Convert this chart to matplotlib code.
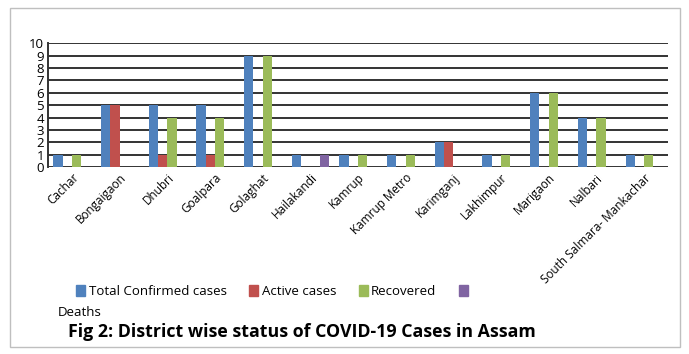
import matplotlib
matplotlib.use("Agg")
import matplotlib.pyplot as plt
import numpy as np
from matplotlib.patches import Rectangle, Patch

# district wise counts
districts = ["Cachar", "Bongaigaon", "Dhubri", "Goalpara", "Golaghat", "Hailakandi",
             "Kamrup", "Kamrup Metro", "Karimganj", "Lakhimpur", "Marigaon", "Nalbari",
             "South Salmara- Mankachar"]
total_confirmed = [1, 5, 5, 5, 9, 1, 1, 1, 2, 1, 6, 4, 1]
active_cases = [0, 5, 1, 1, 0, 0, 0, 0, 2, 0, 0, 0, 0]
recovered = [1, 0, 4, 4, 9, 0, 1, 1, 0, 1, 6, 4, 1]
deaths = [0, 0, 0, 0, 0, 1, 0, 0, 0, 0, 0, 0, 0]

series = [("Total Confirmed cases", total_confirmed, "#4F81BD"),
          ("Active cases", active_cases, "#C0504D"),
          ("Recovered", recovered, "#9BBB59"),
          ("Deaths", deaths, "#8064A2")]

plt.rcParams["font.family"] = ["Open Sans", "DejaVu Sans"]

fig = plt.figure(figsize=(6.89, 3.54), dpi=100)
ax = fig.add_axes([0.0697, 0.528, 0.8998, 0.350])

# outer frame
fig.patches.append(Rectangle((10 / 689, 1 - 347 / 354), 670 / 689, 339 / 354,
                             transform=fig.transFigure, fill=False,
                             edgecolor="#bfbfbf", linewidth=1.0))

x = np.arange(len(districts))
w = 0.195
for i, (name, vals, col) in enumerate(series):
    ax.bar(x + (i - 1.5) * w, vals, w, color=col, label=name, zorder=3)

ax.set_xlim(-0.5, len(districts) - 0.5)
ax.set_ylim(0, 10)
ax.set_yticks(range(0, 11))
ax.yaxis.grid(True, color="#333333", linewidth=1.4, zorder=0)
ax.set_axisbelow(True)
for s in ["top", "right", "bottom"]:
    ax.spines[s].set_visible(False)
ax.spines["left"].set_color("#333333")
ax.spines["left"].set_linewidth(1.4)
ax.tick_params(axis="y", length=0, labelsize=9.5, pad=3)
ax.tick_params(axis="x", length=0, labelsize=8.5, pad=3)
ax.set_xticks(x)
ax.set_xticklabels(districts, rotation=45, ha="right", rotation_mode="anchor")

handles = [Patch(color=c) for _, _, c in series]
leg = fig.legend(handles, [s[0] for s in series[:3]] + [""], loc="upper left",
                 bbox_to_anchor=(0.103, 0.21), ncol=4, frameon=False,
                 fontsize=9.5, handlelength=0.7, handleheight=0.9,
                 handletextpad=0.25, columnspacing=1.7, borderaxespad=0)
fig.text(58 / 689, 1 - 312 / 354, "Deaths", fontsize=9.5, va="center", ha="left")

fig.text(68 / 689, 1 - 332 / 354, "Fig 2: District wise status of COVID-19 Cases in Assam",
         fontsize=12.8, fontweight="bold", va="center", ha="left")

fig.savefig("out.png", dpi=100)
